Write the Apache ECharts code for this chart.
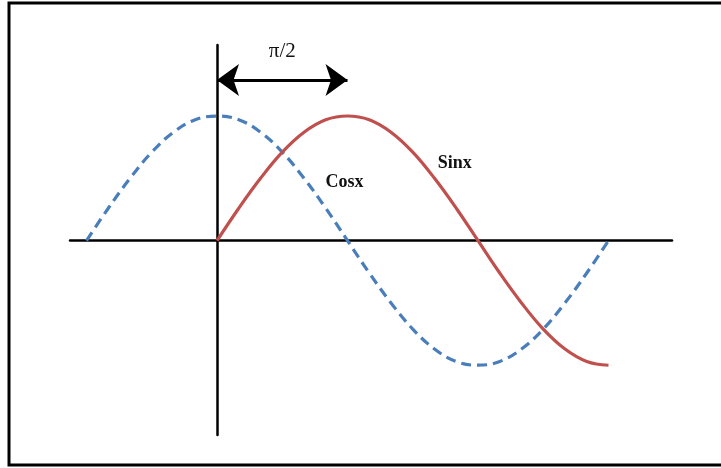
<!DOCTYPE html>
<html>
<head>
<meta charset="utf-8">
<script src="https://cdn.jsdelivr.net/npm/echarts@6/dist/echarts.min.js"></script>
<style>
  html, body { margin: 0; padding: 0; background: #fff; }
  #chart { width: 721px; height: 468px; }
</style>
</head>
<body>
<div id="chart"></div>
<script>
// angles in degrees (amplitude = 1)
const cosAngles = [-90, -75, -60, -45, -30, -15, 0, 15, 30, 45, 60, 75, 90, 105, 120, 135, 150, 165, 180, 195, 210, 225, 240, 255, 270];
const cosValues = [0, 0.26, 0.5, 0.71, 0.87, 0.97, 1, 0.97, 0.87, 0.71, 0.5, 0.26, 0, -0.26, -0.5, -0.71, -0.87, -0.97, -1, -0.97, -0.87, -0.71, -0.5, -0.26, 0];
const sinAngles = [0, 15, 30, 45, 60, 75, 90, 105, 120, 135, 150, 165, 180, 195, 210, 225, 240, 255, 270];
const sinValues = [0, 0.26, 0.5, 0.71, 0.87, 0.97, 1, 0.97, 0.87, 0.71, 0.5, 0.26, 0, -0.26, -0.5, -0.71, -0.87, -0.97, -1];

// phase shift arrow and curve labels
const shiftFrom = [0, 1.29];
const shiftTo = [90, 1.29];
const shiftLabel = 'π/2';
const cosLabel = { name: 'Cosx', coord: [88, 0.47] };
const sinLabel = { name: 'Sinx', coord: [164, 0.62] };

const chart = echarts.init(document.getElementById('chart'));

const labelFont = {
    fontFamily: '"Liberation Serif", "DejaVu Serif", serif',
    color: '#111'
};

const option = {
    animation: false,
    backgroundColor: '#fff',
    grid: { left: 70, right: 49, top: 45, bottom: 33 },
    xAxis: {
        type: 'value',
        min: -101.4,
        max: 313.8,
        axisLine: { show: true, onZero: true, lineStyle: { color: '#000', width: 2.5 } },
        axisTick: { show: false },
        axisLabel: { show: false },
        splitLine: { show: false }
    },
    yAxis: {
        type: 'value',
        min: -1.56,
        max: 1.57,
        axisLine: { show: true, onZero: true, lineStyle: { color: '#000', width: 2.5 } },
        axisTick: { show: false },
        axisLabel: { show: false },
        splitLine: { show: false }
    },
    graphic: [{
        type: 'rect',
        shape: { x: 9, y: 3, width: 720, height: 462 },
        style: { fill: 'none', stroke: '#000', lineWidth: 3 },
        z: 100
    }],
    series: [
        {
            name: 'Cosx',
            type: 'line',
            smooth: 0.4,
            symbol: 'none',
            data: cosAngles.map((a, i) => [a, cosValues[i]]),
            lineStyle: { color: '#4a7ebb', width: 3.2, type: [10, 6] },
            markPoint: {
                symbol: 'rect',
                symbolSize: 1,
                itemStyle: { color: 'transparent' },
                label: {
                    show: true,
                    formatter: '{b}',
                    fontSize: 18,
                    fontWeight: 'bold',
                    ...labelFont
                },
                data: [cosLabel]
            }
        },
        {
            name: 'Sinx',
            type: 'line',
            smooth: 0.4,
            symbol: 'none',
            data: sinAngles.map((a, i) => [a, sinValues[i]]),
            lineStyle: { color: '#c0504d', width: 3.2 },
            markPoint: {
                symbol: 'rect',
                symbolSize: 1,
                itemStyle: { color: 'transparent' },
                label: {
                    show: true,
                    formatter: '{b}',
                    fontSize: 18,
                    fontWeight: 'bold',
                    ...labelFont
                },
                data: [sinLabel]
            },
            markLine: {
                silent: true,
                symbol: ['arrow', 'arrow'],
                symbolSize: [24, 22],
                lineStyle: { color: '#000', width: 3, type: 'solid' },
                label: {
                    show: true,
                    position: 'middle',
                    formatter: shiftLabel,
                    fontSize: 21,
                    distance: 18,
                    ...labelFont
                },
                data: [[{ coord: shiftFrom }, { coord: shiftTo }]]
            }
        }
    ]
};

chart.setOption(option);
</script>
</body>
</html>
